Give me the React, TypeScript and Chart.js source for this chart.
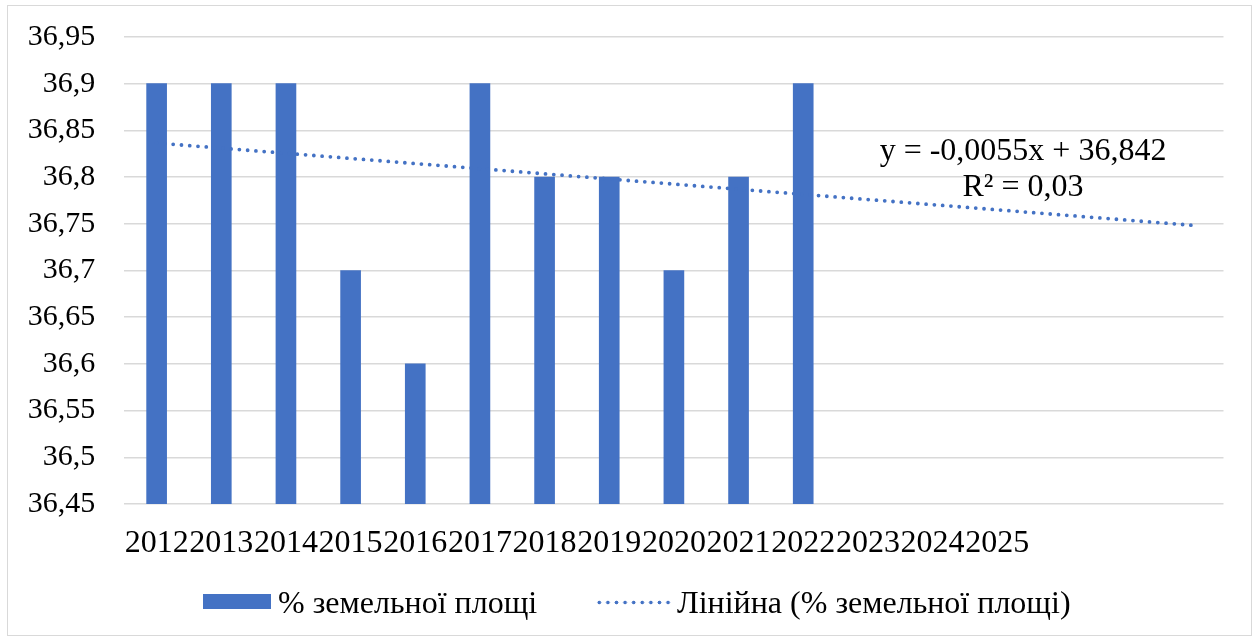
import React, { useEffect, useRef } from 'react';
import { Chart, registerables } from 'chart.js';

Chart.register(...registerables);

// ---- data ----
const categories: string[] = [
  '2012', '2013', '2014', '2015', '2016', '2017', '2018',
  '2019', '2020', '2021', '2022', '2023', '2024', '2025', '', '', '',
];
const shareValues: (number | null)[] = [
  36.9, 36.9, 36.9, 36.7, 36.6, 36.9, 36.8, 36.8, 36.7, 36.8, 36.9,
  null, null, null, null, null, null,
];
// linear trend (with forward forecast) read at its two ends
const trendValues: (number | null)[] = [
  36.8365, null, null, null, null, null, null, null, null, null, null,
  null, null, null, null, null, 36.7485,
];
const yTickValues: number[] = [
  36.45, 36.5, 36.55, 36.6, 36.65, 36.7, 36.75, 36.8, 36.85, 36.9, 36.95,
];
const barLabel = '% земельної площі';
const trendLabel = 'Лінійна (% земельної площі)';
const equationLines: string[] = ['y = -0,0055x + 36,842', 'R² = 0,03'];

const BLUE = '#4472C4';
const FONT = '"Liberation Serif", "Times New Roman", serif';

const equationPlugin = {
  id: 'equationText',
  afterDatasetsDraw(chart: any) {
    const ctx = chart.ctx as CanvasRenderingContext2D;
    ctx.save();
    ctx.font = `32px ${FONT}`;
    ctx.fillStyle = '#000';
    ctx.textAlign = 'center';
    ctx.textBaseline = 'alphabetic';
    ctx.fillText(equationLines[0], 1023, 160);
    ctx.fillText(equationLines[1], 1023, 196);
    ctx.restore();
  },
};

export default function App() {
  const canvasRef = useRef<HTMLCanvasElement | null>(null);

  useEffect(() => {
    if (!canvasRef.current) return;
    const chart = new Chart(canvasRef.current, {
      type: 'bar',
      data: {
        labels: categories,
        datasets: [
          {
            type: 'line',
            label: trendLabel,
            data: trendValues,
            borderColor: BLUE,
            borderWidth: 3.8,
            borderDash: [0, 8.3],
            borderCapStyle: 'round',
            pointRadius: 0,
            spanGaps: true,
            fill: false,
            order: 0,
          } as any,
          {
            type: 'bar',
            label: barLabel,
            data: shareValues,
            backgroundColor: BLUE,
            borderWidth: 0,
            barThickness: 20,
            order: 1,
          } as any,
        ],
      },
      options: {
        responsive: false,
        animation: false,
        layout: { padding: { left: 0, right: 32.5, top: 37, bottom: 76 } },
        plugins: {
          legend: { display: false },
          tooltip: { enabled: false },
        },
        scales: {
          x: {
            grid: { display: false },
            border: { display: false },
            ticks: {
              autoSkip: false,
              maxRotation: 0,
              minRotation: 0,
              padding: 12,
              color: '#000',
              font: { family: FONT, size: 32 },
            },
            afterFit: (s: any) => {
              s.height = 60;
              s.paddingLeft = 0;
              s.paddingRight = 0;
            },
          },
          y: {
            min: 36.45,
            max: 36.95,
            afterBuildTicks: (s: any) => {
              s.ticks = yTickValues.map((v) => ({ value: v }));
            },
            grid: { color: '#d9d9d9', lineWidth: 1.5, drawTicks: false },
            border: { display: false },
            ticks: {
              padding: 29,
              color: '#000',
              font: { family: FONT, size: 30 },
              callback: (v: any) =>
                String(Number(Number(v).toFixed(2))).replace('.', ','),
            },
            afterFit: (s: any) => {
              s.width = 124.3;
              s.paddingTop = 0;
              s.paddingBottom = 0;
            },
          },
        },
      } as any,
      plugins: [equationPlugin],
    });
    return () => chart.destroy();
  }, []);

  const textStyle: React.CSSProperties = {
    position: 'absolute',
    top: 586,
    fontFamily: FONT,
    fontSize: 32,
    lineHeight: '32px',
    whiteSpace: 'nowrap',
    color: '#000',
  };

  return (
    <div style={{ position: 'absolute', left: 0, top: 0, width: 1256, height: 640, background: '#fff' }}>
      <div
        style={{
          position: 'absolute',
          left: 7,
          top: 5,
          width: 1245,
          height: 631,
          boxSizing: 'border-box',
          border: '1px solid #d9d9d9',
        }}
      />
      <canvas
        ref={canvasRef}
        width={1256}
        height={640}
        style={{ position: 'absolute', left: 0, top: 0, width: 1256, height: 640 }}
      />
      <div style={{ position: 'absolute', left: 203, top: 594, width: 68, height: 15, background: BLUE }} />
      <span style={{ ...textStyle, left: 278 }}>{barLabel}</span>
      <div
        style={{
          position: 'absolute',
          left: 595,
          top: 600,
          width: 77.4,
          height: 5,
          backgroundImage: `radial-gradient(circle, ${BLUE} 1.7px, transparent 2.1px)`,
          backgroundSize: '8.6px 5px',
          backgroundRepeat: 'repeat-x',
        }}
      />
      <span style={{ ...textStyle, left: 677 }}>{trendLabel}</span>
    </div>
  );
}
